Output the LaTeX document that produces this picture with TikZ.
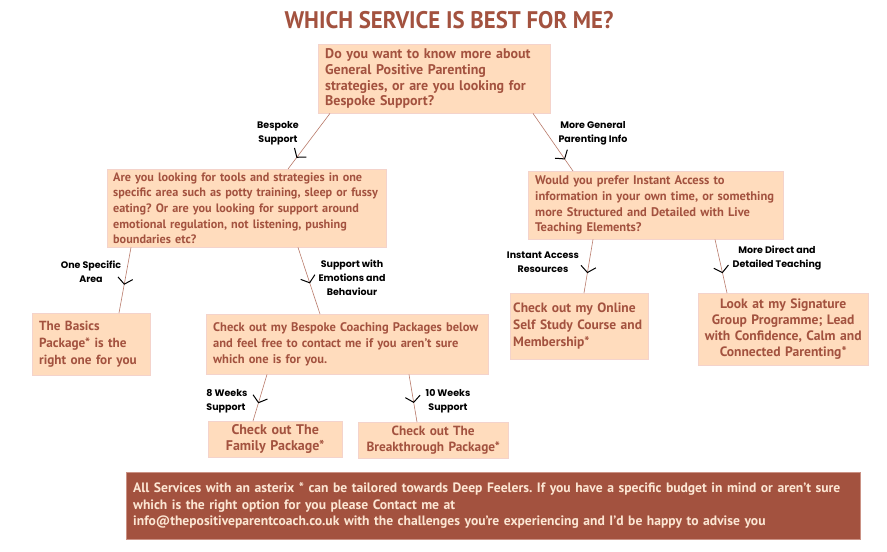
\documentclass[tikz,border=0pt]{standalone}
\usepackage{fontspec}
\setmainfont{PT Sans}
\newfontfamily\labelfont{Poppins}
\usetikzlibrary{arrows.meta,calc,decorations.markings}
\definecolor{rust}{HTML}{A3523F}
\definecolor{peach}{HTML}{FFDCBD}
\definecolor{peachedge}{HTML}{F4D3CB}
\definecolor{wire}{HTML}{B97A6A}
\definecolor{cream}{HTML}{FCE6D3}
\frenchspacing
\tikzset{
  titletext/.style={text=rust, inner sep=0pt, font=\bfseries\fontsize{24}{24}\selectfont},
  qbox/.style={draw=peachedge, fill=peach, text=rust, anchor=north west, align=left, inner xsep=7pt, inner ysep=3pt, font=\bfseries\fontsize{12.5}{15.7}\selectfont},
  bigbox/.style={qbox, font=\bfseries\fontsize{13.5}{16.7}\selectfont},
  endbox/.style={qbox, align=center, font=\bfseries\fontsize{14}{16.2}\selectfont},
  notebox/.style={draw=peachedge!50!rust, fill=rust, text=cream, anchor=north west, align=left, inner xsep=7pt, font=\bfseries\fontsize{13.6}{16.5}\selectfont},
  choice/.style={align=center, inner sep=0pt, font=\labelfont\bfseries\fontsize{9.5}{14}\selectfont},
  link/.style={draw=wire, line width=0.6pt, postaction={decorate},
    decoration={markings, mark=at position #1 with {\arrow[black, line width=1pt]{Straight Barb[length=6pt, width=15pt]}}}}
}
\begin{document}
\begin{tikzpicture}[x=1pt, y=-1pt]
  \fill[white] (0,0) rectangle (887,552);
  \useasboundingbox (0,0) rectangle (887,552);

  \node[titletext] (title) at (449,20.5) {\scalebox{0.95}[1]{WHICH SERVICE IS BEST FOR ME?}};

  \node[qbox, text width=218pt, minimum height=69pt, font=\bfseries\fontsize{14}{15.7}\selectfont] (start) at (318,44) {Do you want to know more about\\General Positive Parenting\\strategies, or are you looking for\\Bespoke Support?};
  \node[qbox, text width=267pt, inner xsep=6pt, minimum height=78pt, font=\bfseries\fontsize{12.2}{15.7}\selectfont] (specific) at (107,169) {Are you looking for tools and strategies in one\\specific area such as potty training, sleep or fussy\\eating? Or are you looking for support around\\emotional regulation, not listening, pushing\\boundaries etc?};
  \node[qbox, text width=241pt, minimum height=68pt] (access) at (528,171) {Would you prefer Instant Access to\\information in your own time, or something\\more Structured and Detailed with Live\\Teaching Elements?};

  \node[bigbox, text width=104pt, minimum height=62pt, font=\bfseries\fontsize{13.2}{16.7}\selectfont] (basics) at (32,313) {The Basics\\Package* is the\\right one for you};
  \node[qbox, text width=268pt, minimum height=60pt] (bespoke) at (206,314) {Check out my Bespoke Coaching Packages below\\and feel free to contact me if you aren't sure\\which one is for you.};
  \node[bigbox, text width=132pt, inner xsep=3pt, minimum height=66pt] (online) at (510,293) {Check out my Online\\Self Study Course and\\Membership*};
  \node[endbox, text width=164pt, inner xsep=3pt, minimum height=72pt, font=\bfseries\fontsize{13.6}{16}\selectfont] (signature) at (698,293) {Look at my Signature\\Group Programme; Lead\\with Confidence, Calm and\\Connected Parenting*};

  \node[endbox, text width=120pt, minimum height=36pt] (family) at (208,421) {Check out The\\Family Package*};
  \node[endbox, text width=136pt, minimum height=36pt, font=\bfseries\fontsize{13.3}{16.2}\selectfont] (breakthrough) at (358,422) {Check out The\\Breakthrough Package*};

  \node[notebox, text width=720pt, minimum height=67pt] (note) at (126,472) {All Services with an asterix * can be tailored towards Deep Feelers. If you have a specific budget in mind or aren't sure\\which is the right option for you please Contact me at\\info@thepositiveparentcoach.co.uk with the challenges you're experiencing and I'd be happy to advise you};

  \node[choice] (lbespoke) at (278,133) {Bespoke\\Support};
  \node[choice] (lgeneral) at (593,133) {More General\\Parenting Info};
  \node[choice] (lone) at (91,272) {One Specific\\Area};
  \node[choice] (lemotions) at (352,278) {Support with\\Emotions and\\Behaviour};
  \node[choice] (linstant) at (543,262) {Instant Access\\Resources};
  \node[choice] (ldirect) at (777,258) {More Direct and\\Detailed Teaching};
  \node[choice, align=left] (leight) at (227,401) {8 Weeks\\Support};
  \node[choice] (lten) at (448,401) {10 Weeks\\Support};

  \draw[link=0.8] ([xshift=12pt]start.south west) -- ([xshift=181pt]specific.north west);
  \draw[link=0.8] ([xshift=215pt]start.south west) -- ([xshift=45pt]access.north west);
  \draw[link=0.57] ([xshift=24pt]specific.south west) -- ([xshift=87pt]basics.north west);
  \draw[link=0.54] ([xshift=191pt]specific.south west) -- ([xshift=114pt]bespoke.north west);
  \draw[link=0.63] ([xshift=65pt]access.south west) -- ([xshift=74pt]online.north west);
  \draw[link=0.63] ([xshift=187pt]access.south west) -- ([xshift=29pt]signature.north west);
  \draw[link=0.62] ([xshift=61pt]bespoke.south west) -- ([xshift=45pt]family.north west);
  \draw[link=0.6] ([xshift=203pt]bespoke.south west) -- ([xshift=59pt]breakthrough.north west);
\end{tikzpicture}
\end{document}
